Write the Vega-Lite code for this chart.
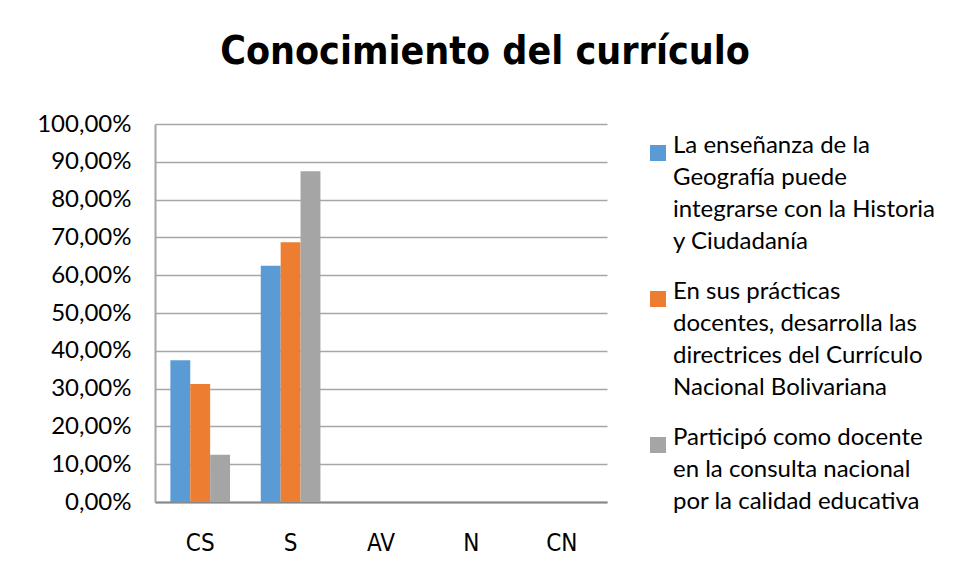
{
  "$schema": "https://vega.github.io/schema/vega-lite/v6.json",
  "autosize": {"type": "none"},
  "padding": {"left": 155, "top": 124, "right": 350, "bottom": 78},
  "width": 452,
  "height": 378,
  "background": "white",
  "title": {
    "text": "Conocimiento del currículo",
    "font": "DejaVu Sans Condensed",
    "fontWeight": "bold",
    "fontSize": 39,
    "color": "#000000",
    "anchor": "middle",
    "frame": "group",
    "dx": 104,
    "offset": 40
  },
  "data": {
    "values": [
      {"categoria": "CS", "serie": "La enseñanza de la Geografía puede integrarse con la Historia y Ciudadanía", "valor": 0.375},
      {"categoria": "CS", "serie": "En sus prácticas docentes, desarrolla las directrices del Currículo Nacional Bolivariana", "valor": 0.3125},
      {"categoria": "CS", "serie": "Participó como docente en la consulta nacional por la calidad educativa", "valor": 0.125},
      {"categoria": "S", "serie": "La enseñanza de la Geografía puede integrarse con la Historia y Ciudadanía", "valor": 0.625},
      {"categoria": "S", "serie": "En sus prácticas docentes, desarrolla las directrices del Currículo Nacional Bolivariana", "valor": 0.6875},
      {"categoria": "S", "serie": "Participó como docente en la consulta nacional por la calidad educativa", "valor": 0.875},
      {"categoria": "AV", "serie": "La enseñanza de la Geografía puede integrarse con la Historia y Ciudadanía", "valor": 0},
      {"categoria": "AV", "serie": "En sus prácticas docentes, desarrolla las directrices del Currículo Nacional Bolivariana", "valor": 0},
      {"categoria": "AV", "serie": "Participó como docente en la consulta nacional por la calidad educativa", "valor": 0},
      {"categoria": "N", "serie": "La enseñanza de la Geografía puede integrarse con la Historia y Ciudadanía", "valor": 0},
      {"categoria": "N", "serie": "En sus prácticas docentes, desarrolla las directrices del Currículo Nacional Bolivariana", "valor": 0},
      {"categoria": "N", "serie": "Participó como docente en la consulta nacional por la calidad educativa", "valor": 0},
      {"categoria": "CN", "serie": "La enseñanza de la Geografía puede integrarse con la Historia y Ciudadanía", "valor": 0},
      {"categoria": "CN", "serie": "En sus prácticas docentes, desarrolla las directrices del Currículo Nacional Bolivariana", "valor": 0},
      {"categoria": "CN", "serie": "Participó como docente en la consulta nacional por la calidad educativa", "valor": 0}
    ]
  },
  "mark": {"type": "bar"},
  "encoding": {
    "x": {
      "field": "categoria",
      "type": "nominal",
      "sort": ["CS", "S", "AV", "N", "CN"],
      "scale": {"paddingInner": 0.34, "paddingOuter": 0.17},
      "axis": {
        "title": null,
        "labelAngle": 0,
        "labelFont": "DejaVu Sans Condensed",
        "labelFontSize": 24,
        "labelColor": "#000000",
        "labelPadding": 29,
        "ticks": false,
        "domainColor": "#888888",
        "domainWidth": 2
      }
    },
    "xOffset": {
      "field": "serie",
      "type": "nominal",
      "sort": [
        "La enseñanza de la Geografía puede integrarse con la Historia y Ciudadanía",
        "En sus prácticas docentes, desarrolla las directrices del Currículo Nacional Bolivariana",
        "Participó como docente en la consulta nacional por la calidad educativa"
      ]
    },
    "y": {
      "field": "valor",
      "type": "quantitative",
      "scale": {"domain": [0, 1]},
      "axis": {
        "title": null,
        "values": [0, 0.1, 0.2, 0.3, 0.4, 0.5, 0.6, 0.7, 0.8, 0.9, 1],
        "labelOverlap": false,
        "labelExpr": "replace(format(datum.value, '.2%'), '.', ',')",
        "labelFont": "Lato",
        "labelFontSize": 24,
        "labelColor": "#000000",
        "labelPadding": 24,
        "ticks": false,
        "gridColor": "#a6a6a6",
        "gridWidth": 1.5,
        "domainColor": "#a6a6a6",
        "domainWidth": 2
      }
    },
    "color": {
      "field": "serie",
      "type": "nominal",
      "scale": {
        "domain": [
          "La enseñanza de la Geografía puede integrarse con la Historia y Ciudadanía",
          "En sus prácticas docentes, desarrolla las directrices del Currículo Nacional Bolivariana",
          "Participó como docente en la consulta nacional por la calidad educativa"
        ],
        "range": ["#5b9bd5", "#ed7d31", "#a5a5a5"]
      },
      "legend": {
        "title": null,
        "orient": "none",
        "legendX": 491,
        "legendY": 17,
        "symbolType": "square",
        "symbolSize": 256,
        "symbolStrokeWidth": 0,
        "symbolOpacity": 1,
        "labelFont": "Lato",
        "labelFontSize": 24,
        "labelColor": "#000000",
        "labelLimit": 400,
        "labelOffset": 3,
        "labelBaseline": "alphabetic",
        "rowPadding": 26,
        "labelExpr": "datum.label == 'La enseñanza de la Geografía puede integrarse con la Historia y Ciudadanía' ? ['La enseñanza de la', 'Geografía puede', 'integrarse con la Historia', 'y Ciudadanía'] : datum.label == 'En sus prácticas docentes, desarrolla las directrices del Currículo Nacional Bolivariana' ? ['En sus prácticas', 'docentes, desarrolla las', 'directrices del Currículo', 'Nacional Bolivariana'] : ['Participó como docente', 'en la consulta nacional', 'por la calidad educativa']"
      }
    }
  },
  "config": {
    "view": {"stroke": null},
    "bar": {"strokeWidth": 0},
    "style": {"guide-label": {"lineHeight": 32}}
  }
}
